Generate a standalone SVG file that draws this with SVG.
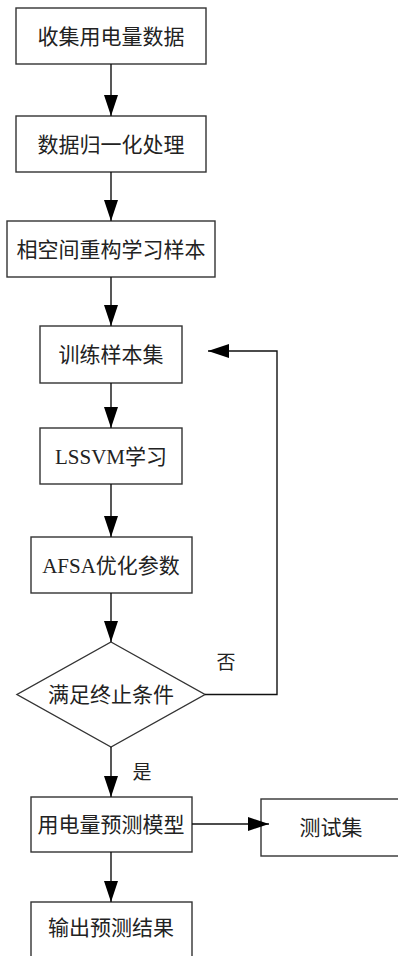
<svg xmlns="http://www.w3.org/2000/svg" width="398" height="956" viewBox="0 0 398 956">
<defs>
<marker id="ah" markerUnits="userSpaceOnUse" markerWidth="21" markerHeight="14" refX="21" refY="7" orient="auto">
<path d="M0,0 L21,7 L0,14 z" fill="#000"/>
</marker>
<style>
.box{fill:#fff;stroke:#333;stroke-width:1.4}
.t{font-family:"Liberation Serif","Noto Sans CJK SC",serif;font-size:21px;fill:#222;text-anchor:middle;dominant-baseline:central}
.lbl{font-family:"Liberation Serif","Noto Sans CJK SC",serif;font-size:19px;fill:#222;text-anchor:middle;dominant-baseline:central}
.c{fill:none;stroke:#111;stroke-width:1.4;marker-end:url(#ah)}
</style>
</defs>
<rect width="398" height="956" fill="#fff"/>
<g id="n1"><rect class="box" x="16" y="8" width="190" height="56"/><text class="t" x="111" y="37">收集用电量数据</text></g>
<g id="n2"><rect class="box" x="16" y="116" width="190" height="56"/><text class="t" x="111" y="145">数据归一化处理</text></g>
<g id="n3"><rect class="box" x="7" y="221" width="208" height="56"/><text class="t" x="111" y="250">相空间重构学习样本</text></g>
<g id="n4"><rect class="box" x="40" y="326" width="142" height="57"/><text class="t" x="111" y="355">训练样本集</text></g>
<g id="n5"><rect class="box" x="40" y="428" width="142" height="56"/><text class="t" x="111" y="457">LSSVM学习</text></g>
<g id="n6"><rect class="box" x="31" y="537" width="161" height="56"/><text class="t" x="111" y="566">AFSA优化参数</text></g>
<g id="n7"><polygon class="box" points="111,642 205,694.5 111,747 17,694.5"/><text class="t" x="111" y="695">满足终止条件</text></g>
<g id="n8"><rect class="box" x="31" y="797" width="161" height="55"/><text class="t" x="111" y="825">用电量预测模型</text></g>
<g id="n9"><rect class="box" x="261" y="799" width="140" height="57"/><text class="t" x="331" y="828">测试集</text></g>
<g id="n10"><rect class="box" x="31" y="902" width="161" height="60"/><text class="t" x="111" y="928">输出预测结果</text></g>
<g id="connectors">
<line class="c" x1="111" y1="64" x2="111" y2="116"/>
<line class="c" x1="111" y1="172" x2="111" y2="221"/>
<line class="c" x1="111" y1="277" x2="111" y2="326"/>
<line class="c" x1="111" y1="383" x2="111" y2="428"/>
<line class="c" x1="111" y1="484" x2="111" y2="537"/>
<line class="c" x1="111" y1="593" x2="111" y2="642"/>
<line class="c" x1="111" y1="747" x2="111" y2="797"/>
<line class="c" x1="192" y1="824" x2="269" y2="824"/>
<line class="c" x1="111" y1="852" x2="111" y2="902"/>
<polyline class="c" points="205,694.5 277,694.5 277,351 208,351"/>
<text class="lbl" x="226" y="662">否</text>
<text class="lbl" x="142" y="772">是</text>
</g>
</svg>
